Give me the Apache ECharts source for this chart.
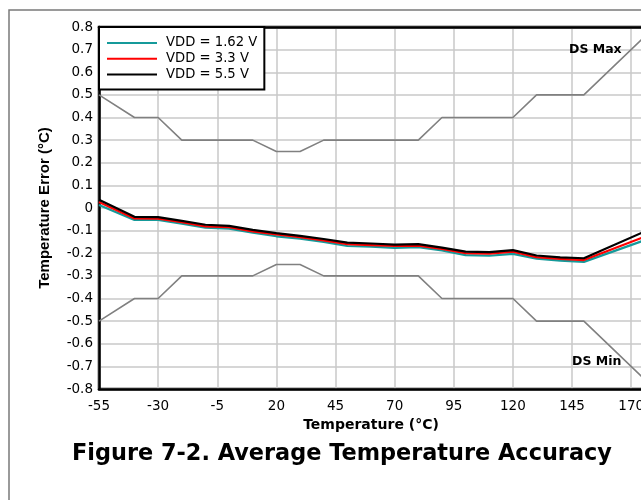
<!DOCTYPE html>
<html>
<head>
<meta charset="utf-8">
<script src="https://cdn.jsdelivr.net/npm/echarts@6/dist/echarts.min.js"></script>
<style>
html,body{margin:0;padding:0;background:#fff;}
#c{width:641px;height:500px;}
</style>
</head>
<body>
<div id="c"></div>
<script>
var temps = [-55,-40,-30,-20,-10,0,10,20,30,40,50,60,70,80,90,100,110,120,130,140,150,175];
var vdd162 = [0.013,-0.053,-0.053,-0.069,-0.087,-0.091,-0.109,-0.125,-0.136,-0.150,-0.168,-0.171,-0.176,-0.173,-0.188,-0.208,-0.211,-0.203,-0.224,-0.233,-0.238,-0.145];
var vdd33 = [0.026,-0.046,-0.047,-0.063,-0.081,-0.085,-0.103,-0.117,-0.129,-0.143,-0.160,-0.164,-0.168,-0.166,-0.181,-0.200,-0.202,-0.193,-0.217,-0.225,-0.230,-0.130];
var vdd55 = [0.036,-0.039,-0.040,-0.057,-0.074,-0.079,-0.097,-0.111,-0.123,-0.137,-0.153,-0.157,-0.162,-0.160,-0.175,-0.193,-0.195,-0.186,-0.210,-0.218,-0.222,-0.107];
var dsTemps = [-55,-40,-30,-20,10,20,30,40,80,90,120,130,150,175];
var dsMax = [0.5,0.4,0.4,0.3,0.3,0.25,0.25,0.3,0.3,0.4,0.4,0.5,0.5,0.75];
var dsMin = [-0.5,-0.4,-0.4,-0.3,-0.3,-0.25,-0.25,-0.3,-0.3,-0.4,-0.4,-0.5,-0.5,-0.75];
var seriesNames = ['VDD = 1.62 V','VDD = 3.3 V','VDD = 5.5 V'];
var xTitle = 'Temperature (°C)';
var yTitle = 'Temperature Error (°C)';
var chartTitle = 'Figure 7-2. Average Temperature Accuracy';

function pairs(xs, ys){ return xs.map(function(x,i){ return [x, ys[i]]; }); }

var WIDE = 'DejaVu Sans, sans-serif';
var ARIAL = 'Liberation Sans, Arial, sans-serif';
var chart = echarts.init(document.getElementById('c'), null, {renderer:'canvas'});
chart.setOption({
  backgroundColor: '#fff',
  animation: false,
  textStyle: {fontFamily: WIDE},
  title: {
    text: chartTitle, left: 72, top: 443, padding: 0,
    textStyle: {fontFamily: WIDE, fontSize: 22.4, fontWeight: 'bold', color: '#000'}
  },
  graphic: [
    {type:'rect', x: 9, y: 10, shape:{x:0,y:0,width:700,height:560}, style:{fill:'none', stroke:'#7a7a7a', lineWidth:1.5}, z: -10, silent:true},
    {type:'text', x: 569, y: 43, style:{text:'DS Max', font:'bold 12.5px DejaVu Sans', fill:'#000'}, z: 100},
    {type:'text', x: 572, y: 355, style:{text:'DS Min', font:'bold 12.5px DejaVu Sans', fill:'#000'}, z: 100}
  ],
  legend: {
    data: seriesNames,
    orient: 'vertical',
    left: 99, top: 27,
    backgroundColor: '#fff',
    borderColor: '#000', borderWidth: 2,
    padding: [8, 7, 7, 8],
    icon: 'rect',
    itemWidth: 50, itemHeight: 2, itemGap: 0,
    textStyle: {fontFamily: WIDE, fontSize: 13.2, color: '#000', lineHeight: 15.8, padding: [0,0,0,4]},
    z: 50
  },
  grid: {
    left: 99, top: 27, width: 544, height: 362,
    outerBoundsMode: 'none', containLabel: false,
    show: true, borderColor: '#000', borderWidth: 2.5, backgroundColor: 'transparent'
  },
  xAxis: [{
    type: 'value', min: -55, max: 175, interval: 25,
    name: xTitle, nameLocation: 'middle', nameGap: 28,
    nameTextStyle: {fontFamily: WIDE, fontSize: 14, fontWeight: 'bold', color: '#000'},
    axisLine: {show: true, onZero: false, lineStyle: {color: '#000', width: 2.5}},
    axisTick: {show: false},
    axisLabel: {fontFamily: WIDE, fontSize: 13.5, color: '#000', margin: 10, showMaxLabel: false},
    splitLine: {show: true, lineStyle: {color: '#c8c8c8', width: 1.5}}
  }, {
    type: 'value', position: 'top', min: -55, max: 175, interval: 25,
    axisLine: {show: true, onZero: false, lineStyle: {color: '#000', width: 2.5}},
    axisTick: {show: false}, axisLabel: {show: false}, splitLine: {show: false}
  }],
  yAxis: {
    type: 'value', min: -0.8, max: 0.8, interval: 0.1,
    name: yTitle, nameLocation: 'middle', nameGap: 47, nameRotate: 90,
    nameTextStyle: {fontFamily: ARIAL, fontSize: 15, fontWeight: 'bold', color: '#000'},
    axisLine: {show: true, onZero: false, lineStyle: {color: '#000', width: 2.5}},
    axisTick: {show: false},
    axisLabel: {fontFamily: WIDE, fontSize: 13.5, color: '#000', margin: 6,
      formatter: function(v){ var r = Math.round(v*10)/10; return r === 0 ? '0' : r.toFixed(1); }},
    splitLine: {show: true, lineStyle: {color: '#c8c8c8', width: 1.5}}
  },
  series: [
    {name:'DS Max', type:'line', data: pairs(dsTemps, dsMax), symbol:'none', lineStyle:{color:'#808080', width:1.6}, itemStyle:{color:'#808080'}, z: 2},
    {name:'DS Min', type:'line', data: pairs(dsTemps, dsMin), symbol:'none', lineStyle:{color:'#808080', width:1.6}, itemStyle:{color:'#808080'}, z: 2},
    {name: seriesNames[0], type:'line', data: pairs(temps, vdd162), symbol:'none', lineStyle:{color:'#159a9a', width:2.2}, itemStyle:{color:'#159a9a'}, z: 3},
    {name: seriesNames[1], type:'line', data: pairs(temps, vdd33), symbol:'none', lineStyle:{color:'#ff0000', width:2.2}, itemStyle:{color:'#ff0000'}, z: 4},
    {name: seriesNames[2], type:'line', data: pairs(temps, vdd55), symbol:'none', lineStyle:{color:'#000000', width:2.2}, itemStyle:{color:'#000000'}, z: 5}
  ]
});
</script>
</body>
</html>
